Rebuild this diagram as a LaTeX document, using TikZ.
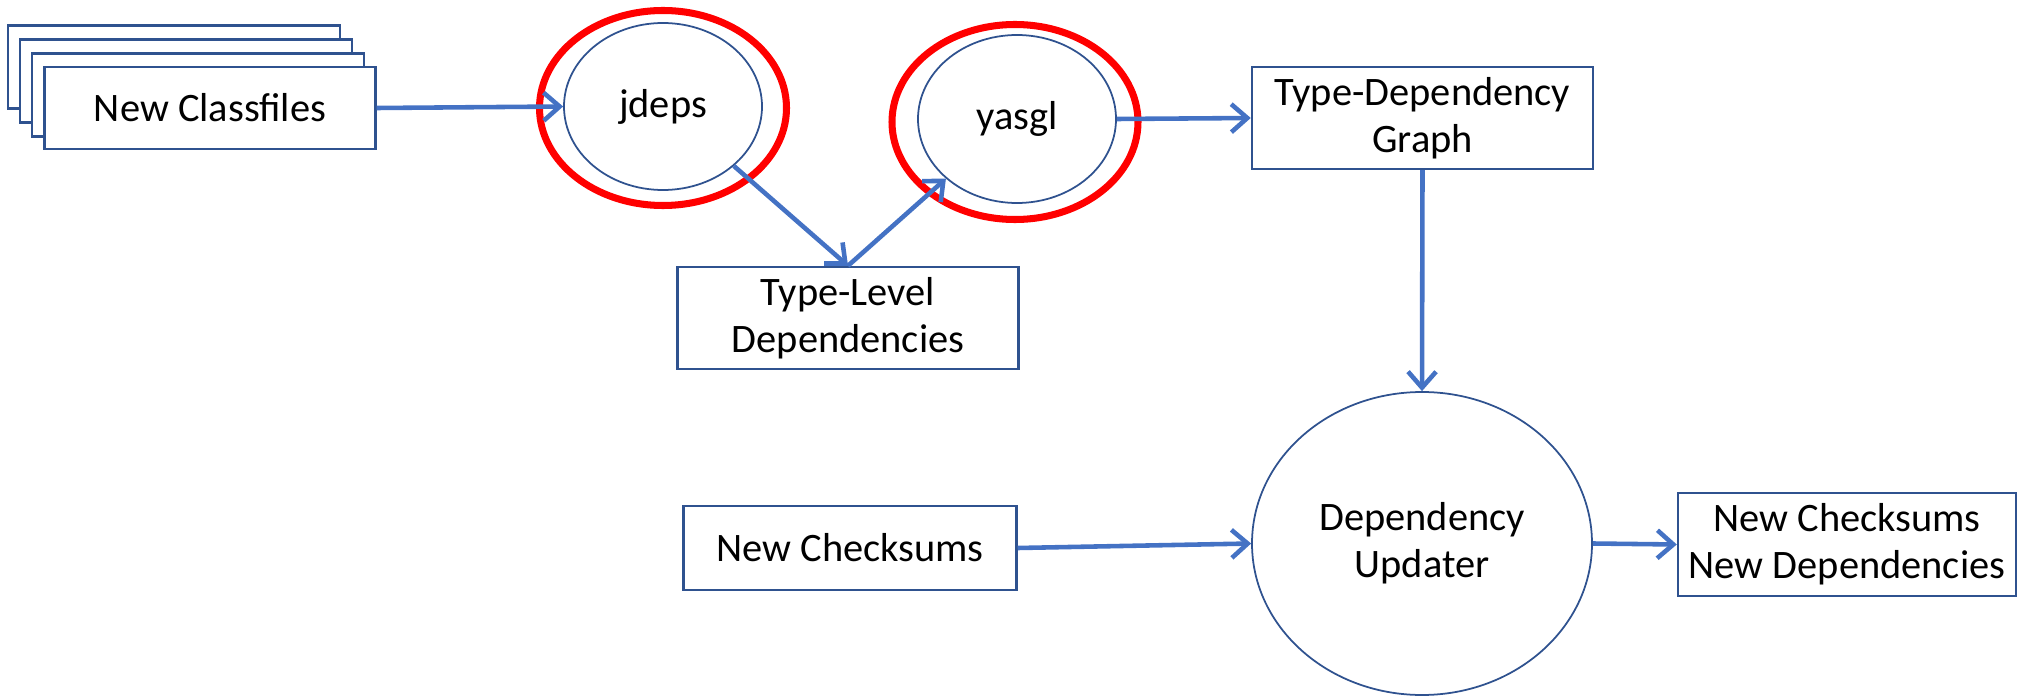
\documentclass[tikz,border=0pt]{standalone}
\usepackage{fontspec}
\setmainfont{Carlito}
\usetikzlibrary{arrows.meta, positioning, shapes.geometric}

\definecolor{boxblue}{HTML}{2F528F}
\definecolor{arrowblue}{HTML}{4472C4}
\definecolor{ringred}{HTML}{FF0000}

\begin{document}
\begin{tikzpicture}[
    box/.style={rectangle, draw=boxblue, line width=0.7pt, fill=white, align=center, font=\fontsize{11.5}{13.4}\selectfont, inner sep=0pt},
    proc/.style={ellipse, draw=boxblue, line width=0.5pt, align=center, font=\fontsize{11.5}{13.4}\selectfont, inner sep=0pt},
    ring/.style={ellipse, draw=ringred, line width=2pt, inner sep=0pt},
    flow/.style={-{Straight Barb[length=1.6mm, width=2.8mm]}, line width=1.3pt, arrowblue}
]

% rahmen
\useasboundingbox (0,0) rectangle (20.2,-6.96);

% stapel af klassefiler
\foreach \i/\x/\y in {1/1.74/-0.67, 2/1.86/-0.81, 3/1.98/-0.95} {
    \node[box, minimum width=3.32cm, minimum height=0.83cm] (sheet\i) at (\x,\y) {};
}
\node[box, minimum width=3.31cm, minimum height=0.82cm] (classfiles) at (2.10,-1.08) {New Classfiles};

% analyse-trin
\node[proc, minimum width=1.98cm, minimum height=1.67cm] (jdeps) at (6.63,-1.065) {jdeps};
\node[ring, minimum width=2.47cm, minimum height=1.95cm] (jdepsring) at (6.63,-1.08) {};
\node[proc, minimum width=1.98cm, minimum height=1.68cm] (yasgl) at (10.17,-1.19) {yasgl};
\node[ring, minimum width=2.46cm, minimum height=1.95cm] (yasglring) at (10.15,-1.22) {};

% mellemresultater
\node[box, minimum width=3.41cm, minimum height=1.02cm] (typelevel) at (8.48,-3.18) {Type-Level\\Dependencies};
\node[box, minimum width=3.41cm, minimum height=1.02cm] (typegraph) at (14.225,-1.18) {Type-Dependency\\Graph};

% opdatering
\node[proc, minimum width=3.40cm, minimum height=3.03cm] (updater) at (14.22,-5.435) {Dependency\\Updater};
\node[box, minimum width=3.33cm, minimum height=0.84cm] (checksums) at (8.50,-5.48) {New Checksums};
\node[box, minimum width=3.38cm, minimum height=1.03cm] (result) at (18.47,-5.445) {New Checksums\\New Dependencies};

% pile
\draw[flow] (classfiles.east) -- (jdeps.west);
\draw[flow] (jdeps.-40) -- (typelevel.north);
\draw[flow] (typelevel.north) -- (yasgl.220);
\draw[flow] (yasgl.east) -- (typegraph.west);
\draw[flow] (typegraph.south) -- (updater.north);
\draw[flow] (checksums.east) -- (updater.west);
\draw[flow] (updater.east) -- (result.west);

\end{tikzpicture}
\end{document}
